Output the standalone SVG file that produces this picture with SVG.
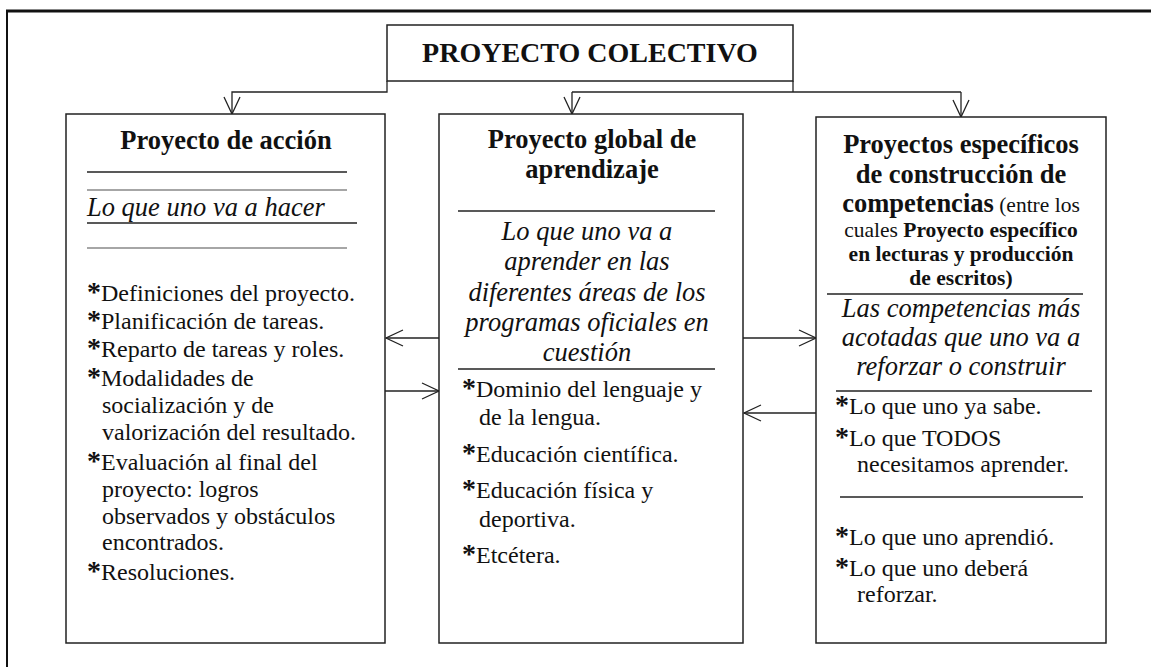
<svg xmlns="http://www.w3.org/2000/svg" width="1151" height="667" viewBox="0 0 1151 667">
<style>
text{font-family:"Liberation Serif","Times New Roman",serif;fill:#111}
.t{font-size:28px;font-weight:bold;text-anchor:middle}
.h{font-size:26.5px;font-weight:bold;text-anchor:middle}
.i{font-size:26.5px;font-style:italic}
.ic{font-size:26.5px;font-style:italic;text-anchor:middle}
.b{font-size:24px}
.s{font-size:21.5px;text-anchor:middle}
.sb{font-weight:bold}
.ast{font-weight:bold;font-size:28px}
.box{fill:#fff;stroke:#222;stroke-width:1.5}
.rule{stroke:#222;stroke-width:1.3}
.grey{stroke:#888;stroke-width:1.3}
.con{fill:none;stroke:#222;stroke-width:1.3}
</style>
<defs>
<marker id="arr" viewBox="0 0 20 20" refX="19" refY="10" markerWidth="20" markerHeight="20" markerUnits="userSpaceOnUse" orient="auto">
<path d="M2,2 L19,10 L2,18" fill="none" stroke="#222" stroke-width="1.3"/>
</marker>
</defs>
<rect width="1151" height="667" fill="#fff"/>
<g id="frame">
<line x1="6" y1="11" x2="1151" y2="11" stroke="#111" stroke-width="3"/>
<line x1="7" y1="10" x2="7" y2="667" stroke="#111" stroke-width="2"/>
</g>
<g id="connectors">
<polyline class="con" points="387,81 387,92 232,92 232,114" marker-end="url(#arr)"/>
<line class="con" x1="793" y1="81" x2="793" y2="92"/>
<line class="con" x1="572" y1="92" x2="961" y2="92"/>
<line class="con" x1="572" y1="92" x2="572" y2="114" marker-end="url(#arr)"/>
<line class="con" x1="961" y1="92" x2="961" y2="117" marker-end="url(#arr)"/>
<line class="con" x1="439" y1="338" x2="386" y2="338" marker-end="url(#arr)"/>
<line class="con" x1="385" y1="391" x2="439" y2="391" marker-end="url(#arr)"/>
<line class="con" x1="743" y1="338" x2="816" y2="338" marker-end="url(#arr)"/>
<line class="con" x1="816" y1="413" x2="744" y2="413" marker-end="url(#arr)"/>
</g>
<g id="title">
<rect class="box" x="387" y="25" width="406" height="56"/>
<text class="t" x="590" y="62">PROYECTO COLECTIVO</text>
</g>
<g id="accion">
<rect class="box" x="66" y="114" width="319" height="529"/>
<text class="h" x="226" y="149">Proyecto de acción</text>
<line class="rule" x1="87" y1="172" x2="347" y2="172"/>
<line class="grey" x1="87" y1="190" x2="347" y2="190"/>
<text class="i" x="87" y="216">Lo que uno va a hacer</text>
<line class="rule" x1="87" y1="223" x2="357" y2="223"/>
<line class="grey" x1="87" y1="248" x2="347" y2="248"/>
<text class="b" x="87" y="301"><tspan class="ast">*</tspan>Definiciones del proyecto.</text>
<text class="b" x="87" y="329"><tspan class="ast">*</tspan>Planificación de tareas.</text>
<text class="b" x="87" y="357"><tspan class="ast">*</tspan>Reparto de tareas y roles.</text>
<text class="b" x="87" y="386"><tspan class="ast">*</tspan>Modalidades de</text>
<text class="b" x="102" y="413">socialización y de</text>
<text class="b" x="102" y="440">valorización del resultado.</text>
<text class="b" x="87" y="470"><tspan class="ast">*</tspan>Evaluación al final del</text>
<text class="b" x="102" y="497">proyecto: logros</text>
<text class="b" x="102" y="524">observados y obstáculos</text>
<text class="b" x="102" y="550">encontrados.</text>
<text class="b" x="87" y="580"><tspan class="ast">*</tspan>Resoluciones.</text>
</g>
<g id="global">
<rect class="box" x="439" y="114" width="304" height="529"/>
<text class="h" x="592" y="148">Proyecto global de</text>
<text class="h" x="592" y="178">aprendizaje</text>
<line class="rule" x1="458" y1="211" x2="715" y2="211"/>
<text class="ic" x="587" y="240">Lo que uno va a</text>
<text class="ic" x="587" y="270">aprender en las</text>
<text class="ic" x="587" y="301">diferentes áreas de los</text>
<text class="ic" x="587" y="331">programas oficiales en</text>
<text class="ic" x="587" y="361">cuestión</text>
<line class="rule" x1="458" y1="369" x2="715" y2="369"/>
<text class="b" x="462" y="397"><tspan class="ast">*</tspan>Dominio del lenguaje y</text>
<text class="b" x="479" y="425">de la lengua.</text>
<text class="b" x="462" y="462"><tspan class="ast">*</tspan>Educación científica.</text>
<text class="b" x="462" y="498"><tspan class="ast">*</tspan>Educación física y</text>
<text class="b" x="479" y="527">deportiva.</text>
<text class="b" x="462" y="563"><tspan class="ast">*</tspan>Etcétera.</text>
</g>
<g id="especificos">
<rect class="box" x="816" y="117" width="290" height="526"/>
<text class="h" x="961" y="153">Proyectos específicos</text>
<text class="h" x="961" y="183">de construcción de</text>
<text class="s" x="961" y="212"><tspan class="sb" font-size="26.5px">competencias</tspan> (entre los</text>
<text class="s" x="961" y="237">cuales <tspan class="sb">Proyecto específico</tspan></text>
<text class="s sb" x="961" y="261">en lecturas y producción</text>
<text class="s sb" x="961" y="285">de escritos)</text>
<line class="rule" x1="827" y1="294" x2="1083" y2="294"/>
<text class="ic" x="961" y="317">Las competencias más</text>
<text class="ic" x="961" y="346">acotadas que uno va a</text>
<text class="ic" x="961" y="375">reforzar o construir</text>
<line class="rule" x1="836" y1="391" x2="1092" y2="391"/>
<text class="b" x="835" y="414"><tspan class="ast">*</tspan>Lo que uno ya sabe.</text>
<text class="b" x="835" y="446"><tspan class="ast">*</tspan>Lo que TODOS</text>
<text class="b" x="857" y="472">necesitamos aprender.</text>
<line class="rule" x1="840" y1="497" x2="1083" y2="497"/>
<text class="b" x="835" y="545"><tspan class="ast">*</tspan>Lo que uno aprendió.</text>
<text class="b" x="835" y="576"><tspan class="ast">*</tspan>Lo que uno deberá</text>
<text class="b" x="857" y="602">reforzar.</text>
</g>
</svg>
